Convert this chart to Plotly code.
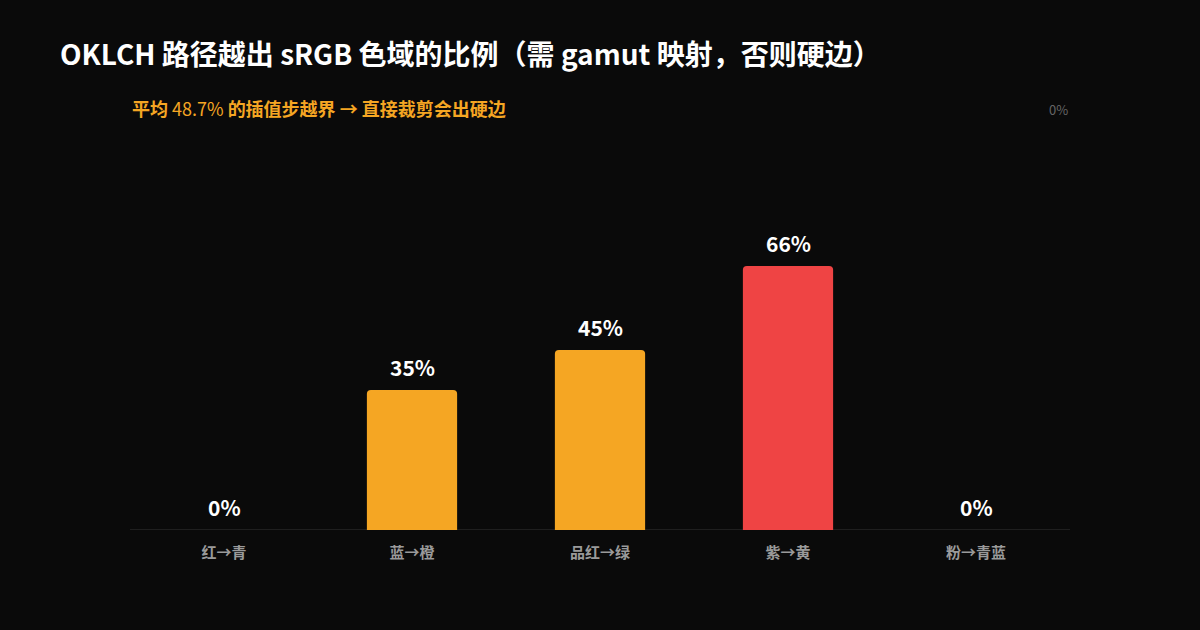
import plotly.graph_objects as go

# 各插值路径越出 sRGB 色域的比例
paths = ["红→青", "蓝→橙", "品红→绿", "紫→黄", "粉→青蓝"]
out_of_gamut = [0, 35, 45, 66, 0]
labels = [f"{v}%" for v in out_of_gamut]

FONT = "Noto Sans CJK SC, Noto Sans, sans-serif"
BG = "#0a0a0a"
colors = ["#ef4444" if v > 50 else "#f5a623" for v in out_of_gamut]

fig = go.Figure(go.Bar(
    x=paths,
    y=out_of_gamut,
    marker=dict(color=colors, line=dict(width=0), cornerradius=4),
    cliponaxis=False,
    hoverinfo="skip",
))

# value labels above each bar
value_notes = [
    dict(
        x=p, y=v, xref="x", yref="y", text=f"<b>{t}</b>",
        yanchor="bottom", yshift=6, showarrow=False,
        font=dict(size=21, color="#ffffff", family=FONT),
    )
    for p, v, t in zip(paths, out_of_gamut, labels)
]

fig.update_layout(
    width=1200, height=630,
    paper_bgcolor=BG, plot_bgcolor=BG,
    margin=dict(l=130, r=130, t=130, b=100),
    bargap=0.52,
    showlegend=False,
    font=dict(family=FONT, color="#ffffff"),
    title=dict(
        text="<b>OKLCH 路径越出 sRGB 色域的比例（需 gamut 映射，否则硬边）</b>",
        x=60 / 1200, xanchor="left", xref="container",
        y=1 - 55 / 630, yanchor="middle", yref="container",
        font=dict(size=28, color="#ffffff", family=FONT),
    ),
    xaxis=dict(
        showgrid=False, zeroline=False, showline=False,
        tickfont=dict(size=15, color="#9a9a9a", family=FONT),
        ticks="", ticklabelstandoff=12,
        tickprefix="<b>", ticksuffix="</b>",
    ),
    yaxis=dict(
        range=[0, 100], visible=False, showgrid=False, zeroline=False,
    ),
    shapes=[dict(
        type="line", xref="paper", yref="y", x0=0, x1=1, y0=0, y1=0,
        line=dict(color="#1f1f1f", width=2), layer="below",
    )],
    annotations=value_notes + [
        dict(
            text="<b>平均</b> 48.7% <b>的插值步越界 → 直接裁剪会出硬边</b>",
            xref="paper", yref="paper", x=0, y=1.055,
            xanchor="left", yanchor="middle", showarrow=False,
            font=dict(size=18, color="#f5a623", family=FONT),
        ),
        dict(
            text="0%",
            xref="paper", yref="paper", x=1, y=1.052,
            xanchor="right", yanchor="middle", showarrow=False,
            font=dict(size=13, color="#666666", family=FONT),
        ),
    ],
)

fig.write_html(
    "out.html",
    config={"displayModeBar": False},
    post_script="document.body.style.margin='0';",
)
